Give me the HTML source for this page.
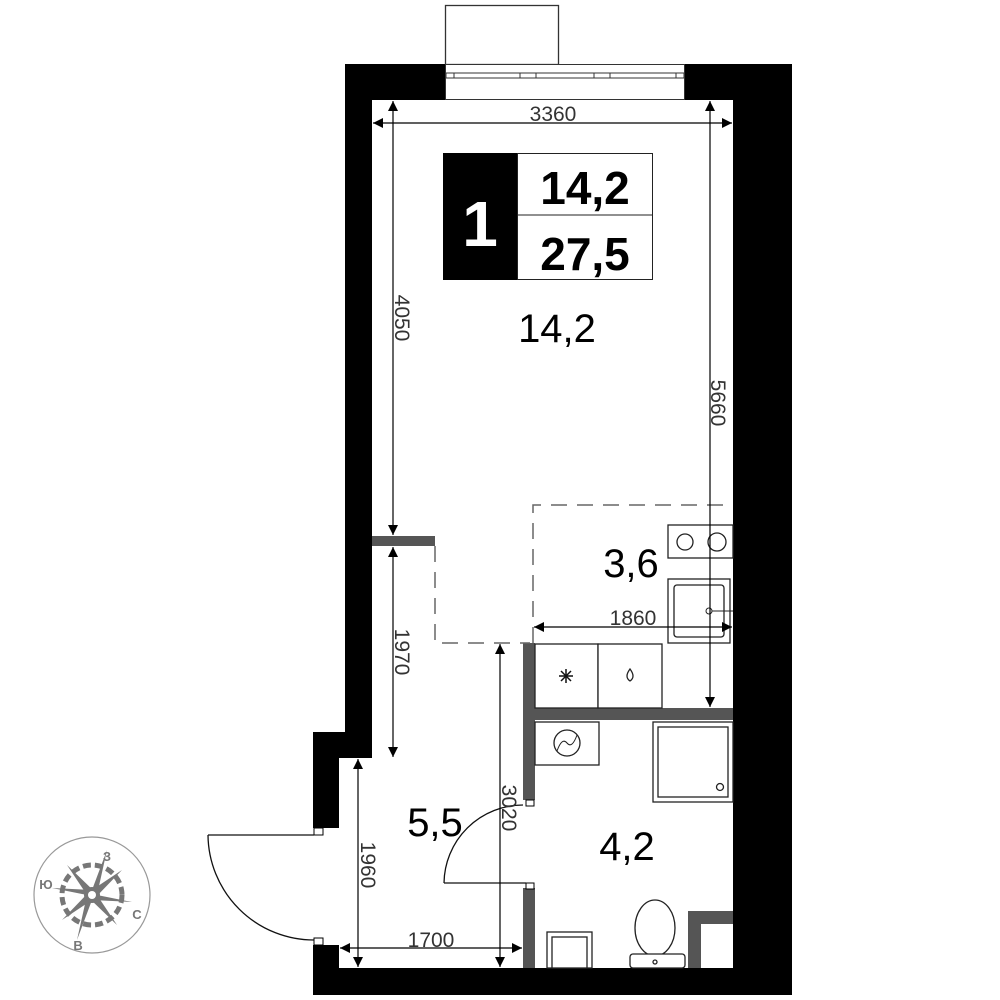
<!DOCTYPE html>
<html><head><meta charset="utf-8"><style>
html,body{margin:0;padding:0;background:#fff}
svg{display:block}
text{font-family:"Liberation Sans",sans-serif}
</style></head><body>
<svg width="1000" height="1000" viewBox="0 0 1000 1000" xmlns="http://www.w3.org/2000/svg">
<defs>
<marker id="a" viewBox="0 0 10 10" refX="10" refY="5" markerWidth="16" markerHeight="10" markerUnits="userSpaceOnUse" orient="auto-start-reverse"><path d="M0,0 L10,5 L0,10 z" fill="#000"/></marker>
</defs>
<rect x="445.5" y="5.5" width="113" height="59" fill="#fff" stroke="#333" stroke-width="1.3"/>
<rect x="345" y="64" width="100" height="36" fill="#000"/>
<rect x="684" y="64" width="108" height="36" fill="#000"/>
<rect x="345" y="64" width="27" height="694" fill="#000"/>
<rect x="313" y="732" width="59" height="26" fill="#000"/>
<rect x="313" y="732" width="26" height="96" fill="#000"/>
<rect x="313" y="945" width="26" height="23" fill="#000"/>
<rect x="733" y="64" width="59" height="931" fill="#000"/>
<rect x="313" y="968" width="479" height="27" fill="#000"/>
<rect x="314" y="828" width="9" height="7" fill="#fff" stroke="#000"/>
<rect x="314" y="938" width="9" height="7" fill="#fff" stroke="#000"/>
<rect x="445.5" y="64.5" width="239" height="35" fill="#fff" stroke="#333"/>
<line x1="446" y1="73" x2="684" y2="73" stroke="#333"/>
<line x1="446" y1="78" x2="684" y2="78" stroke="#333"/>
<g fill="#fff" stroke="#333"><rect x="446" y="73" width="8" height="5"/><rect x="520" y="73" width="16" height="5"/><rect x="594" y="73" width="16" height="5"/><rect x="676" y="73" width="8" height="5"/></g>
<g fill="#555">
<rect x="372" y="536" width="63" height="10"/>
<rect x="523" y="643" width="12" height="157"/>
<rect x="535" y="708" width="198" height="12"/>
<rect x="523" y="888" width="12" height="80"/>
<rect x="688" y="911" width="13" height="57"/>
<rect x="688" y="911" width="45" height="13"/>
</g>
<rect x="526" y="800" width="8" height="6" fill="#fff" stroke="#000"/>
<rect x="526" y="883" width="8" height="6" fill="#fff" stroke="#000"/>
<g stroke="#666" stroke-width="1.5" fill="none" stroke-dasharray="16,10">
<path d="M435,546 V643 H530"/>
<path d="M533,643 V505 H733"/>
</g>
<g fill="#fff" stroke="#222" stroke-width="1.3">
<rect x="535" y="644" width="63" height="64"/>
<rect x="598" y="644" width="64" height="64"/>
<rect x="668" y="525" width="65" height="33"/>
<circle cx="685" cy="542" r="8"/><circle cx="717" cy="542" r="9"/>
<rect x="668" y="579" width="62" height="64"/>
<rect x="674" y="585" width="50" height="52" rx="3"/>
<rect x="535" y="722" width="64" height="43"/>
<circle cx="567" cy="743" r="13"/>
<rect x="653" y="722" width="80" height="80"/>
<rect x="658" y="727" width="70" height="70"/>
<circle cx="720" cy="787" r="3.5"/>
<rect x="547" y="932" width="45" height="36"/>
<rect x="552" y="937" width="35" height="31"/>
<ellipse cx="655" cy="928" rx="20" ry="28"/>
<rect x="630" y="954" width="55" height="14" rx="3"/>
<circle cx="655" cy="962" r="2"/>
</g>
<line x1="709" y1="611" x2="733" y2="611" stroke="#222"/><circle cx="709" cy="611" r="3" fill="#fff" stroke="#222"/>
<path d="M557,751 q5,-14 10,-8 q5,6 10,-8" fill="none" stroke="#222"/>
<g stroke="#111" stroke-width="1.5"><line x1="559" y1="676" x2="573" y2="676"/><line x1="566" y1="669" x2="566" y2="683"/><line x1="561" y1="671" x2="571" y2="681"/><line x1="571" y1="671" x2="561" y2="681"/></g>
<path d="M630,669 q-6,8 0,12 q6,-4 0,-12z" fill="none" stroke="#222" stroke-width="1.3"/>
<g fill="none" stroke="#111" stroke-width="1.3">
<path d="M208,835 H314"/>
<path d="M208,835 A106,106 0 0 0 314,940"/>
<path d="M444,883 H526"/>
<path d="M444,883 A79,79 0 0 1 523,805"/>
</g>
<g stroke="#000" stroke-width="1.2" marker-start="url(#a)" marker-end="url(#a)">
<line x1="373" y1="123" x2="732" y2="123"/>
<line x1="393" y1="101" x2="393" y2="535"/>
<line x1="710" y1="101" x2="710" y2="707"/>
<line x1="393" y1="547" x2="393" y2="757"/>
<line x1="534" y1="627" x2="732" y2="627"/>
<line x1="500" y1="644" x2="500" y2="967"/>
<line x1="358" y1="759" x2="358" y2="967"/>
<line x1="340" y1="948" x2="522" y2="948"/>
</g>
<g fill="#333" font-size="21">
<text x="553" y="121" text-anchor="middle">3360</text>
<text x="633" y="625" text-anchor="middle">1860</text>
<text x="431" y="947" text-anchor="middle">1700</text>
<text transform="translate(395,318) rotate(90)" text-anchor="middle">4050</text>
<text transform="translate(711,403) rotate(90)" text-anchor="middle">5660</text>
<text transform="translate(395,652) rotate(90)" text-anchor="middle">1970</text>
<text transform="translate(361,865) rotate(90)" text-anchor="middle">1960</text>
<text transform="translate(502,808) rotate(90)" text-anchor="middle">3020</text>
</g>
<rect x="443" y="153" width="75" height="127" fill="#000"/>
<rect x="517.5" y="153.5" width="135" height="126" fill="#fff" stroke="#222"/>
<line x1="518" y1="215" x2="653" y2="215" stroke="#222"/>
<text x="480" y="246" font-size="64" fill="#fff" font-weight="bold" text-anchor="middle">1</text>
<text x="585" y="204" font-size="46" font-weight="bold" text-anchor="middle">14,2</text>
<text x="585" y="270" font-size="46" font-weight="bold" text-anchor="middle">27,5</text>
<g font-size="40" text-anchor="middle">
<text x="557" y="342">14,2</text>
<text x="631" y="577">3,6</text>
<text x="435" y="836">5,5</text>
<text x="627" y="860">4,2</text>
</g>
<g transform="translate(92,895)">
<circle r="58" fill="#fff" stroke="#999" stroke-width="1.2"/>
<circle r="30" fill="none" stroke="#777" stroke-width="5" stroke-dasharray="8,4"/>
<g fill="#777">
<polygon points="-40,-7 0,-5 -5,0"/><polygon points="40,7 0,5 5,0"/>
<polygon points="15,-45 5,0 0,-5"/><polygon points="-15,45 -5,0 0,5"/>
<polygon points="-30,25 -3,-3 3,3"/><polygon points="30,-25 3,3 -3,-3"/>
<polygon points="-25,-30 3,-3 -3,3"/><polygon points="25,30 -3,3 3,-3"/>
</g>
<circle r="8" fill="#777"/><circle r="4" fill="#fff"/>
<g fill="#777" font-size="13" font-weight="bold" text-anchor="middle">
<text x="15" y="-34">З</text><text x="-46" y="-6">Ю</text><text x="45" y="24">С</text><text x="-14" y="55">В</text>
</g>
</g>
</svg>
</body></html>
